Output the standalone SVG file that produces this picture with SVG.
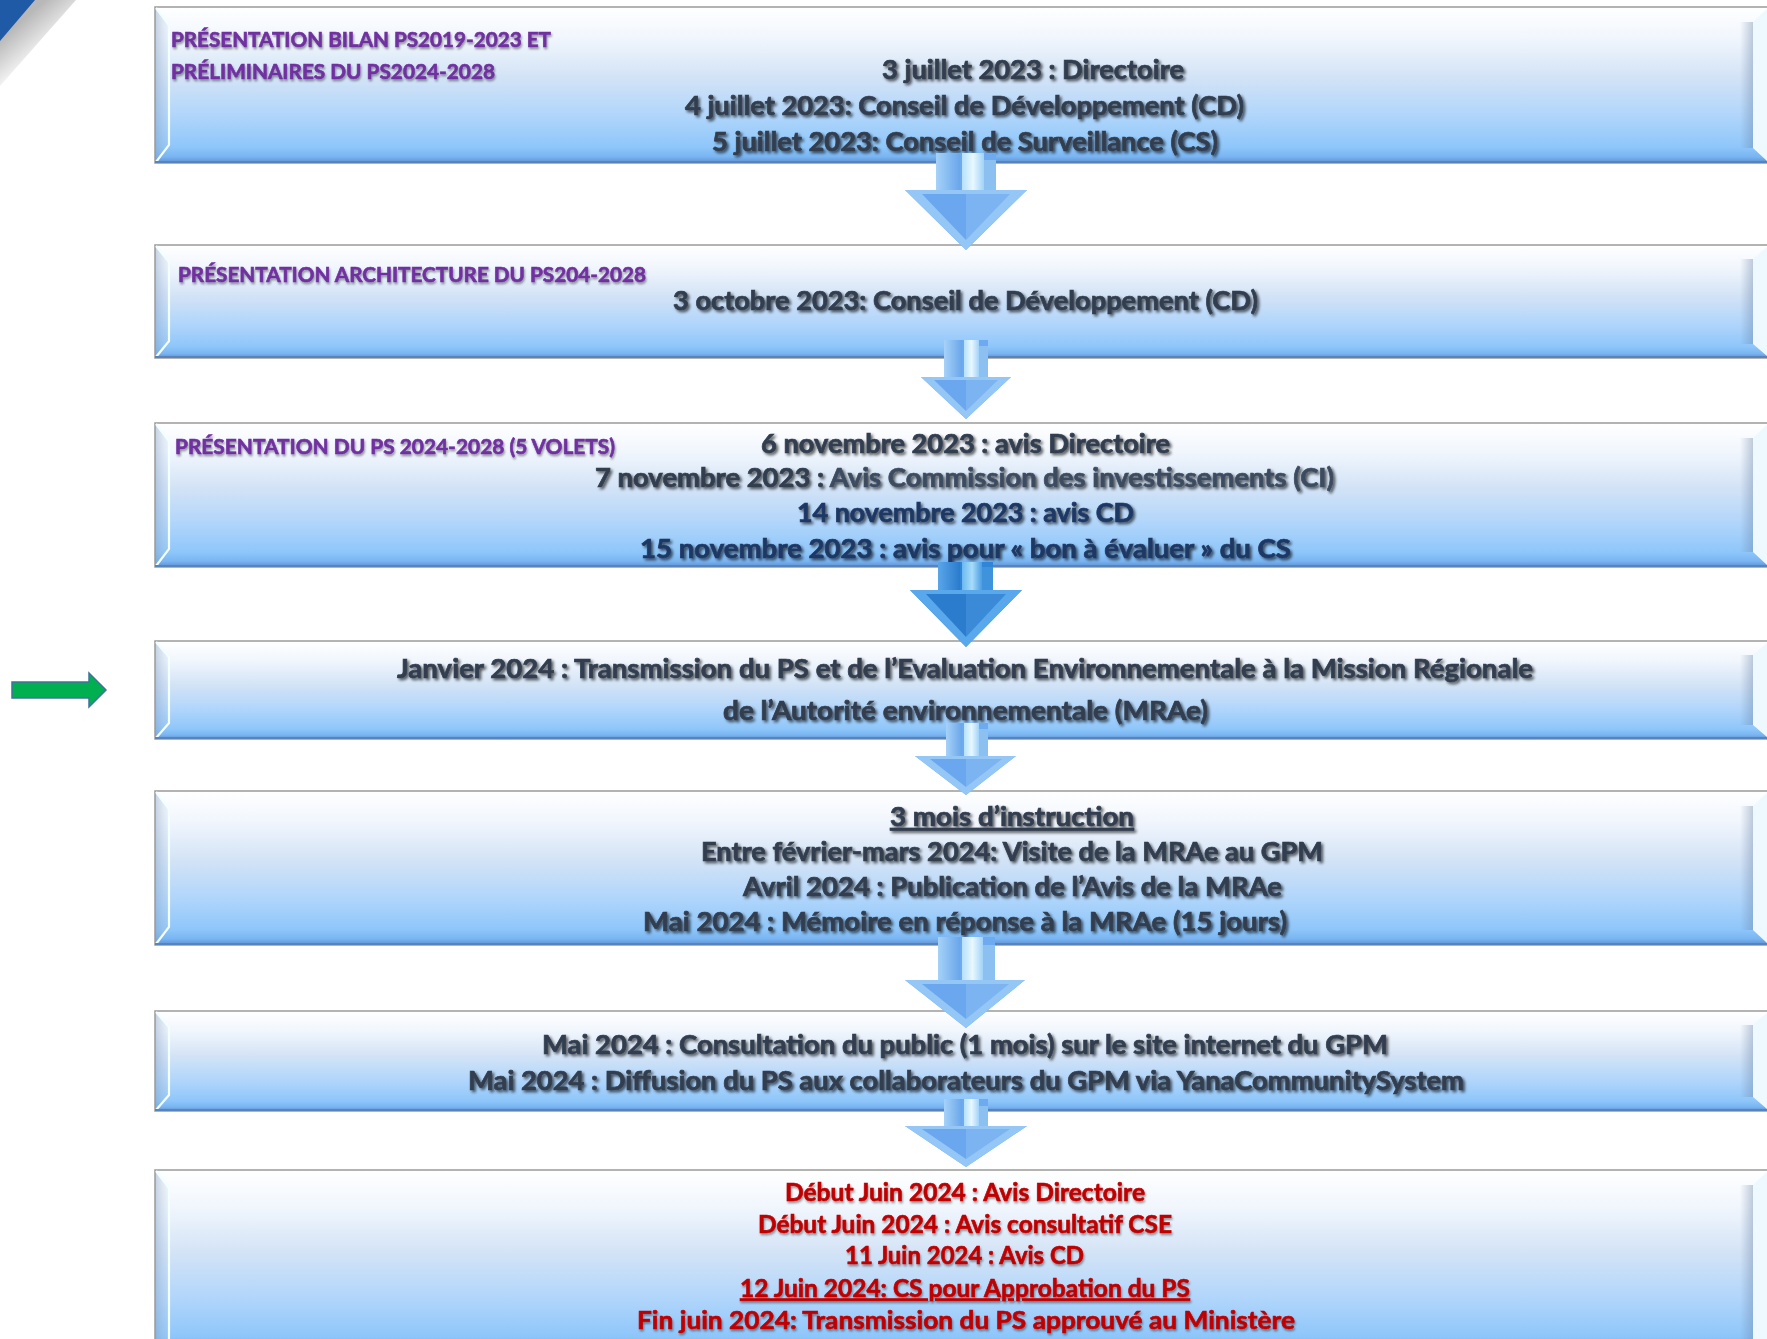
<svg xmlns="http://www.w3.org/2000/svg" width="1767" height="1339" viewBox="0 0 1767 1339">
<defs>
<linearGradient id="boxg" x1="0" y1="0" x2="0" y2="1">
<stop offset="0" stop-color="#ffffff"/>
<stop offset="0.2" stop-color="#f1f6fd"/>
<stop offset="0.45" stop-color="#d3e3f6"/>
<stop offset="0.7" stop-color="#b0d5fb"/>
<stop offset="0.9" stop-color="#8ec6fa"/>
<stop offset="0.96" stop-color="#79b5f2"/>
<stop offset="1" stop-color="#5d8fd0"/>
</linearGradient>
<linearGradient id="lbev" x1="0" y1="0" x2="1" y2="0">
<stop offset="0" stop-color="#7f9cc0" stop-opacity="0.45"/>
<stop offset="1" stop-color="#b9cde6" stop-opacity="0.15"/>
</linearGradient>
<linearGradient id="rsh" x1="0" y1="0" x2="1" y2="0">
<stop offset="0" stop-color="#6b84a6" stop-opacity="0"/>
<stop offset="1" stop-color="#6b84a6" stop-opacity="0.4"/>
</linearGradient>
<linearGradient id="corner" gradientUnits="userSpaceOnUse" x1="20" y1="22" x2="48" y2="54">
<stop offset="0" stop-color="#b8b8b8"/>
<stop offset="1" stop-color="#ffffff"/>
</linearGradient>
<linearGradient id="shl" x1="0" y1="0" x2="1" y2="0">
<stop offset="0" stop-color="#a6d2f8"/>
<stop offset="1" stop-color="#6aa6ea"/>
</linearGradient>
<linearGradient id="shh" x1="0" y1="0" x2="1" y2="0">
<stop offset="0" stop-color="#b5e0ff"/>
<stop offset="0.5" stop-color="#e8f8ff"/>
<stop offset="1" stop-color="#a2d2f8"/>
</linearGradient>
<linearGradient id="dshl" x1="0" y1="0" x2="1" y2="0">
<stop offset="0" stop-color="#5aa6ea"/>
<stop offset="1" stop-color="#2a7bcc"/>
</linearGradient>
<linearGradient id="dshh" x1="0" y1="0" x2="1" y2="0">
<stop offset="0" stop-color="#6ab8ef"/>
<stop offset="0.5" stop-color="#a8dcfa"/>
<stop offset="1" stop-color="#4a9ce2"/>
</linearGradient>
<filter id="ts" x="-5%" y="-40%" width="110%" height="180%">
<feGaussianBlur in="SourceAlpha" stdDeviation="1.4"/>
<feOffset dx="1.8" dy="2.2" result="o"/>
<feComponentTransfer><feFuncA type="linear" slope="0.65"/></feComponentTransfer>
<feMerge><feMergeNode/><feMergeNode in="SourceGraphic"/></feMerge>
</filter>
<filter id="tsl" x="-5%" y="-40%" width="110%" height="180%">
<feGaussianBlur in="SourceAlpha" stdDeviation="1.2"/>
<feOffset dx="1.2" dy="1.8" result="o"/>
<feComponentTransfer><feFuncA type="linear" slope="0.4"/></feComponentTransfer>
<feMerge><feMergeNode/><feMergeNode in="SourceGraphic"/></feMerge>
</filter>
<style>
.box{fill:url(#boxg);stroke:#9a9a9a;stroke-width:1.5}
.lb{fill:url(#lbev)}
.lh{fill:none;stroke:#f2ffff;stroke-width:2.2}
.rb{fill:#eef9ff}
.rs{fill:url(#rsh)}
.bl{stroke:#5a82bb;stroke-width:2}
.t{font-family:Lato,"Liberation Sans",sans-serif;font-weight:bold;font-size:26px;fill:#323e4f;stroke:#323e4f;stroke-width:0.7;filter:url(#ts)}
.p{font-family:Lato,"Liberation Sans",sans-serif;font-weight:bold;font-size:20px;fill:#7030a0;stroke:#7030a0;stroke-width:0.6;filter:url(#tsl)}
.r{font-family:Lato,"Liberation Sans",sans-serif;font-weight:bold;font-size:24px;fill:#c00000;stroke:#c00000;stroke-width:0.6;filter:url(#tsl)}
.n{fill:#1f3864;stroke:#1f3864}
.g{fill:#3e4c60;stroke:#3e4c60}
.ab{fill:#6eaaf0}
.sl{fill:url(#shl)}
.sh{fill:url(#shh)}
.sr{fill:#8cc0f0}
.ho{fill:#94c6f6}
.hi{fill:#6aa7ee}
.hr{fill:#7cb4f2}
.dab{fill:#2f86d8}
.dsl{fill:url(#dshl)}
.dsh{fill:url(#dshh)}
.dsr{fill:#3f92dc}
.dho{fill:#5aa8ec}
.dhi{fill:#2b7ccc}
.dhr{fill:#3a8ad8}
</style>
</defs>
<rect x="0" y="0" width="1767" height="1339" fill="#ffffff"/>
<g id="corner-deco">
<polygon points="0,0 76,0 0,86" fill="url(#corner)"/>
<polygon points="0,0 35,0 0,41" fill="#1f5aa6"/>
</g>

<g id="box1">
<rect class="box" x="155" y="7" width="1625" height="156"/>
<polygon class="lb" points="155,7 169,25 169,145 155,163"/>
<polyline class="lh" points="156,8 169,25 169,145 156,162"/>
<polygon class="rs" points="1740,22 1753,22 1753,148 1740,148"/>
<polygon class="rb" points="1753,22 1767,9 1767,161 1753,148"/>
<line class="bl" x1="155" y1="162" x2="1767" y2="162"/>
<text class="p" x="171" y="46.5" textLength="380" lengthAdjust="spacingAndGlyphs">PRÉSENTATION BILAN PS2019-2023 ET</text>
<text class="p" x="171" y="79" textLength="324" lengthAdjust="spacingAndGlyphs">PRÉLIMINAIRES DU PS2024-2028</text>
<text class="t" x="882" y="79" textLength="302" lengthAdjust="spacingAndGlyphs">3 juillet 2023 : Directoire</text>
<text class="t" x="685" y="115" textLength="559" lengthAdjust="spacingAndGlyphs">4 juillet 2023: Conseil de Développement (CD)</text>
<text class="t" x="712" y="151" textLength="506" lengthAdjust="spacingAndGlyphs">5 juillet 2023: Conseil de Surveillance (CS)</text>
</g>

<g id="box2">
<rect class="box" x="155" y="245" width="1625" height="113"/>
<polygon class="lb" points="155,245 169,262 169,341 155,358"/>
<polyline class="lh" points="156,246 169,262 169,341 156,357"/>
<polygon class="rs" points="1740,259 1753,259 1753,344 1740,344"/>
<polygon class="rb" points="1753,259 1767,247 1767,356 1753,344"/>
<line class="bl" x1="155" y1="357" x2="1767" y2="357"/>
<text class="p" x="178" y="282" textLength="468" lengthAdjust="spacingAndGlyphs">PRÉSENTATION ARCHITECTURE DU PS204-2028</text>
<text class="t" x="673" y="310" textLength="585" lengthAdjust="spacingAndGlyphs">3 octobre 2023: Conseil de Développement (CD)</text>
</g>

<g id="box3">
<rect class="box" x="155" y="423" width="1625" height="144"/>
<polygon class="lb" points="155,423 169,441 169,549 155,567"/>
<polyline class="lh" points="156,424 169,441 169,549 156,566"/>
<polygon class="rs" points="1740,438 1753,438 1753,552 1740,552"/>
<polygon class="rb" points="1753,438 1767,425 1767,565 1753,552"/>
<line class="bl" x1="155" y1="566" x2="1767" y2="566"/>
<text class="p" x="175" y="454" textLength="440" lengthAdjust="spacingAndGlyphs">PRÉSENTATION DU PS 2024-2028 (5 VOLETS)</text>
<text class="t" x="761" y="452.5" textLength="409" lengthAdjust="spacingAndGlyphs">6 novembre 2023 : avis Directoire</text>
<text class="t" x="595" y="487" textLength="739" lengthAdjust="spacingAndGlyphs">7 novembre 2023 : <tspan class="g">Avis Commission des investissements (CI)</tspan></text>
<text class="t n" x="797" y="522" textLength="337" lengthAdjust="spacingAndGlyphs">14 novembre 2023 : avis CD</text>
<text class="t n" x="640" y="558" textLength="651" lengthAdjust="spacingAndGlyphs">15 novembre 2023 : avis pour « bon à évaluer » du CS</text>
</g>

<g id="box4">
<rect class="box" x="155" y="641" width="1625" height="98"/>
<polygon class="lb" points="155,641 169,657 169,723 155,739"/>
<polyline class="lh" points="156,642 169,657 169,723 156,738"/>
<polygon class="rs" points="1740,655 1753,655 1753,725 1740,725"/>
<polygon class="rb" points="1753,655 1767,643 1767,737 1753,725"/>
<line class="bl" x1="155" y1="738" x2="1767" y2="738"/>
<text class="t" x="397" y="678" textLength="1136" lengthAdjust="spacingAndGlyphs">Janvier 2024 : Transmission du PS et de l’Evaluation Environnementale à la Mission Régionale</text>
<text class="t" x="723" y="720" textLength="485" lengthAdjust="spacingAndGlyphs">de l’Autorité environnementale (MRAe)</text>
</g>

<g id="box5">
<rect class="box" x="155" y="791" width="1625" height="154"/>
<polygon class="lb" points="155,791 169,809 169,927 155,945"/>
<polyline class="lh" points="156,792 169,809 169,927 156,944"/>
<polygon class="rs" points="1740,806 1753,806 1753,930 1740,930"/>
<polygon class="rb" points="1753,806 1767,793 1767,943 1753,930"/>
<line class="bl" x1="155" y1="944" x2="1767" y2="944"/>
<text class="t" x="890" y="826" textLength="244" lengthAdjust="spacingAndGlyphs" text-decoration="underline">3 mois d’instruction</text>
<text class="t" x="701" y="861" textLength="622" lengthAdjust="spacingAndGlyphs">Entre février-mars 2024: Visite de la MRAe au GPM</text>
<text class="t" x="743" y="896" textLength="539" lengthAdjust="spacingAndGlyphs">Avril 2024 : Publication de l’Avis de la MRAe</text>
<text class="t" x="643" y="931" textLength="644" lengthAdjust="spacingAndGlyphs">Mai 2024 : Mémoire en réponse à la MRAe (15 jours)</text>
</g>

<g id="box6">
<rect class="box" x="155" y="1011" width="1625" height="100"/>
<polygon class="lb" points="155,1011 169,1027 169,1095 155,1111"/>
<polyline class="lh" points="156,1012 169,1027 169,1095 156,1110"/>
<polygon class="rs" points="1740,1025 1753,1025 1753,1097 1740,1097"/>
<polygon class="rb" points="1753,1025 1767,1013 1767,1109 1753,1097"/>
<line class="bl" x1="155" y1="1110" x2="1767" y2="1110"/>
<text class="t" x="542" y="1054" textLength="846" lengthAdjust="spacingAndGlyphs">Mai 2024 : Consultation du public (1 mois) sur le site internet du GPM</text>
<text class="t" x="468" y="1090" textLength="996" lengthAdjust="spacingAndGlyphs">Mai 2024 : Diffusion du PS aux collaborateurs du GPM via YanaCommunitySystem</text>
</g>

<g id="box7">
<rect class="box" x="155" y="1170" width="1625" height="185"/>
<polygon class="lb" points="155,1170 169,1188 169,1340 155,1340"/>
<polyline class="lh" points="156,1171 169,1188 169,1340"/>
<polygon class="rs" points="1740,1185 1753,1185 1753,1340 1740,1340"/>
<polygon class="rb" points="1753,1185 1767,1172 1767,1340 1753,1340"/>
<text class="r" x="785" y="1201" textLength="360" lengthAdjust="spacingAndGlyphs">Début Juin 2024 : Avis Directoire</text>
<text class="r" x="758" y="1232.5" textLength="414" lengthAdjust="spacingAndGlyphs">Début Juin 2024 : Avis consultatif CSE</text>
<text class="r" x="845" y="1264" textLength="239" lengthAdjust="spacingAndGlyphs">11 Juin 2024 : Avis CD</text>
<text class="r" x="740" y="1296.5" textLength="450" lengthAdjust="spacingAndGlyphs" text-decoration="underline">12 Juin 2024: CS pour Approbation du PS</text>
<text class="r" x="637" y="1329" textLength="658" lengthAdjust="spacingAndGlyphs">Fin juin 2024: Transmission du PS approuvé au Ministère</text>
</g>

<g id="marker-arrow">
<polygon points="12,682 89,682 89,673 106,690 89,707 89,698 12,698" fill="#00b050" stroke="#41719c" stroke-width="1.5"/>
</g>

<g id="connectors">
<g id="arrow1">
<path class="ab" d="M936 153 H996 V190 H1027 L966 250 L905 190 H936 Z"/>
<rect class="sl" x="936" y="153" width="24" height="39"/>
<rect class="sh" x="962" y="153" width="22" height="39"/>
<rect class="sr" x="984" y="160" width="12" height="32"/>
<polygon class="ho" points="905,190 1027,190 966,250"/>
<polygon class="hi" points="922,194 966,194 966,240"/>
<polygon class="hr" points="966,194 1010,194 966,240"/>
</g>
<g id="arrow2">
<path class="ab" d="M944 340 H988 V377 H1011 L966 419 L921 377 H944 Z"/>
<rect class="sl" x="944" y="340" width="18" height="39"/>
<rect class="sh" x="964" y="340" width="15" height="39"/>
<rect class="sr" x="979" y="346" width="9" height="33"/>
<polygon class="ho" points="921,377 1011,377 966,419"/>
<polygon class="hi" points="934,380 966,380 966,411"/>
<polygon class="hr" points="966,380 998,380 966,411"/>
</g>
<g id="arrow3">
<path class="dab" d="M938 562 H993 V590 H1022 L966 647 L910 590 H938 Z"/>
<rect class="dsl" x="938" y="562" width="22" height="30"/>
<rect class="dsh" x="962" y="562" width="20" height="30"/>
<rect class="dsr" x="982" y="567" width="11" height="25"/>
<polygon class="dho" points="910,590 1022,590 966,647"/>
<polygon class="dhi" points="926,594 966,594 966,637"/>
<polygon class="dhr" points="966,594 1006,594 966,637"/>
</g>
<g id="arrow4">
<path class="ab" d="M946 723 H988 V756 H1016 L966 795 L915 756 H946 Z"/>
<rect class="sl" x="946" y="723" width="16" height="35"/>
<rect class="sh" x="964" y="723" width="15" height="35"/>
<rect class="sr" x="979" y="729" width="9" height="29"/>
<polygon class="ho" points="915,756 1016,756 966,795"/>
<polygon class="hi" points="930,759 966,759 966,787"/>
<polygon class="hr" points="966,759 1002,759 966,787"/>
</g>
<g id="arrow5">
<path class="ab" d="M938 937 H995 V980 H1025 L966 1028 L905 980 H938 Z"/>
<rect class="sl" x="938" y="937" width="22" height="45"/>
<rect class="sh" x="962" y="937" width="21" height="45"/>
<rect class="sr" x="983" y="945" width="12" height="37"/>
<polygon class="ho" points="905,980 1025,980 966,1028"/>
<polygon class="hi" points="922,984 966,984 966,1019"/>
<polygon class="hr" points="966,984 1009,984 966,1019"/>
</g>
<g id="arrow6">
<path class="ab" d="M944 1099 H988 V1126 H1027 L966 1167 L905 1126 H944 Z"/>
<rect class="sl" x="944" y="1099" width="18" height="29"/>
<rect class="sh" x="964" y="1099" width="15" height="29"/>
<rect class="sr" x="979" y="1106" width="9" height="22"/>
<polygon class="ho" points="905,1126 1027,1126 966,1167"/>
<polygon class="hi" points="922,1129 966,1129 966,1159"/>
<polygon class="hr" points="966,1129 1010,1129 966,1159"/>
</g>
</g>
</svg>
